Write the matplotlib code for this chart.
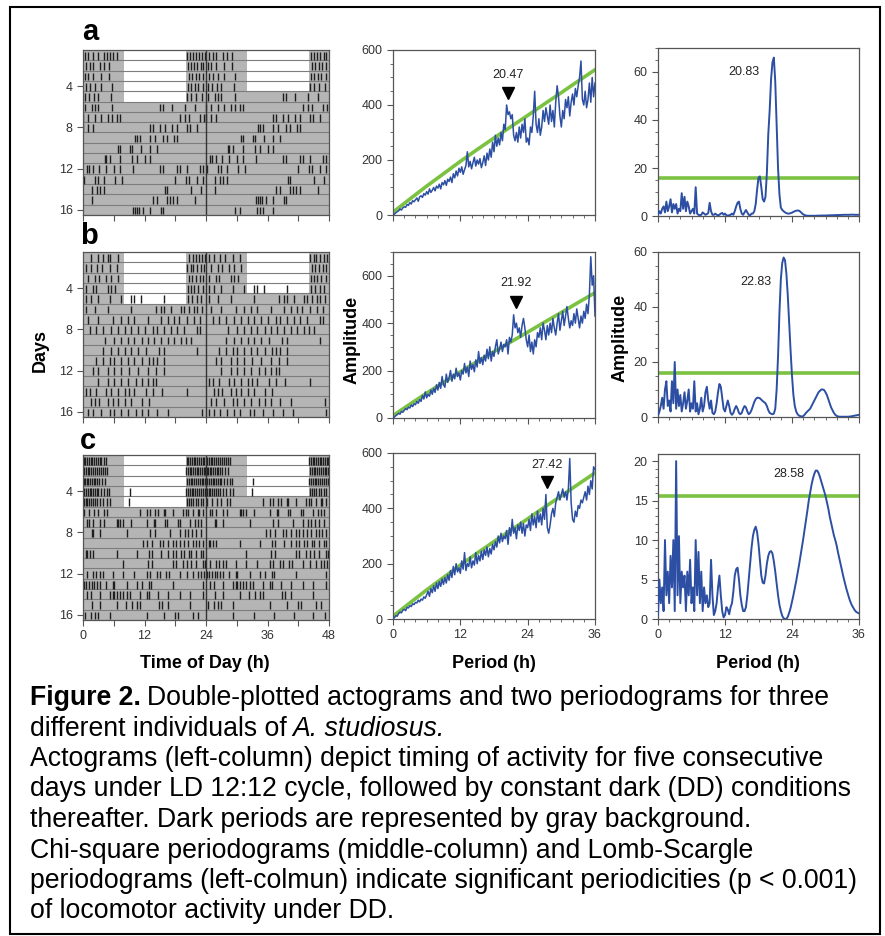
import numpy as np
import matplotlib.pyplot as plt
from matplotlib.patches import Rectangle
from matplotlib.ticker import MultipleLocator

plt.rcParams['font.family'] = ['Liberation Sans', 'DejaVu Sans']

# ---------------- data ----------------
# activity bouts (hour of day) for days 1..17, one list per day
ACT_A = [
    [0.4, 1.0, 2.0, 3.0, 4.0, 4.6, 5.3, 5.9, 6.6, 20.2, 20.8, 21.5, 22.0, 22.6, 23.3, 23.8],
    [0.5, 1.4, 2.0, 3.4, 4.0, 5.0, 20.5, 21.0, 21.6, 22.3, 23.0, 23.5],
    [0.3, 1.0, 2.0, 3.5, 5.0, 20.6, 21.2, 22.0, 22.7, 23.4],
    [0.5, 1.4, 2.3, 3.6, 5.6, 20.4, 21.0, 21.8, 22.5, 23.5],
    [0.4, 1.2, 2.1, 3.0, 5.5, 20.3, 21.0, 22.0, 23.2],
    [0.4, 1.7, 2.3, 3.0, 5.6, 15.0, 15.7, 17.3, 19.9, 21.9],
    [0.0, 1.0, 2.3, 3.6, 4.9, 5.6, 6.6, 7.2, 18.9, 19.9, 20.6, 22.9, 23.6],
    [0.0, 1.0, 2.0, 13.0, 13.7, 15.0, 16.0, 17.3, 18.3, 20.2, 20.9, 22.2],
    [10.1, 10.5, 11.2, 13.1, 14.0, 15.7, 16.4, 17.7, 18.3],
    [6.9, 7.3, 9.2, 9.5, 11.4, 13.0, 14.4],
    [4.3, 4.4, 5.3, 7.2, 9.5, 10.5, 12.0, 13.0],
    [0.7, 1.2, 2.0, 3.2, 4.5, 6.0, 7.3, 9.8, 15.0, 15.7, 18.3, 19.0, 20.3, 22.9, 23.5],
    [0.1, 2.3, 3.0, 4.0, 6.2, 7.6, 18.0, 20.0, 20.6, 22.2, 23.5],
    [1.8, 2.7, 3.4, 4.0, 16.0, 16.3, 21.0, 23.0],
    [1.7, 13.7, 14.4, 16.4, 17.0, 17.6, 18.3, 21.9],
    [9.8, 10.2, 10.5, 10.9, 11.8, 13.0, 15.3, 15.7],
    [5.6, 6.6, 9.9, 10.5, 11.2, 13.1],
]
ACT_B = [
    [1.6, 2.9, 3.9, 4.8, 5.2, 6.8, 20.7, 21.4, 22.0, 22.7, 23.3, 23.8],
    [0.5, 1.5, 2.8, 3.7, 5.3, 6.6, 20.2, 21.0, 21.5, 22.3, 23.0, 23.6],
    [1.0, 2.3, 3.2, 4.5, 5.5, 6.8, 20.6, 21.3, 22.0, 22.8, 23.5],
    [0.6, 1.9, 2.6, 4.9, 5.5, 6.2, 20.4, 21.0, 21.6, 22.5, 23.4],
    [0.6, 1.6, 2.9, 5.2, 7.4, 9.4, 10.0, 11.3, 15.8, 20.5, 21.2, 22.3, 23.0],
    [0.6, 2.3, 4.8, 9.4, 14.2, 15.2, 15.8, 17.1, 19.1, 19.7, 20.7, 21.6, 22.3, 23.3],
    [1.0, 2.9, 5.8, 7.4, 8.7, 10.0, 12.6, 15.2, 16.5, 17.8, 18.7, 20.3, 21.6, 22.9],
    [1.3, 2.6, 3.9, 5.5, 6.8, 8.1, 9.4, 10.7, 12.0, 13.6, 14.5, 15.8, 17.1, 18.4, 19.7, 22.3, 22.9],
    [4.2, 6.1, 7.4, 8.7, 10.0, 11.6, 12.6, 13.9, 15.2, 16.5, 17.8, 19.1, 20.0, 21.0],
    [3.9, 5.5, 6.8, 8.1, 9.4, 10.7, 12.3, 14.9, 15.8, 22.3],
    [2.6, 3.9, 5.2, 6.1, 7.4, 8.7, 10.0, 11.6, 12.9, 13.6, 14.5, 15.8],
    [1.9, 2.9, 4.8, 6.1, 7.4, 9.0, 10.7, 12.6, 14.2, 15.8],
    [2.9, 4.8, 6.1, 7.4, 8.7, 10.3, 11.6, 12.6, 13.6, 14.2],
    [0.6, 1.3, 2.6, 4.5, 5.5, 6.8, 8.1, 9.0, 10.0, 12.3, 13.6, 15.5, 20.3],
    [1.6, 2.3, 3.2, 4.8, 5.8, 6.8, 8.1, 9.4, 11.6, 12.9],
    [1.0, 1.9, 3.6, 5.2, 6.1, 7.4, 8.7, 10.3, 11.6, 12.6, 14.5, 16.5, 23.3],
    [0.5, 1.5, 2.8, 4.1, 5.4, 6.7, 8.6, 9.3, 11.2, 13.1, 15.1, 17.0, 23.5],
]
ACT_C = [
    [0.1, 0.4, 0.8, 1.1, 1.5, 1.8, 2.2, 2.5, 2.9, 3.3, 3.6, 4.0, 4.4,
     20.2, 20.5, 20.9, 21.2, 21.6, 21.9, 22.3, 22.6, 23.0, 23.4, 23.7],
    [0.2, 0.5, 0.9, 1.2, 1.6, 2.0, 2.3, 2.7, 3.1, 3.5, 3.9, 4.3, 4.7,
     20.1, 20.4, 20.8, 21.1, 21.5, 21.8, 22.2, 22.5, 22.9, 23.3, 23.6, 23.9],
    [0.1, 0.4, 0.7, 1.0, 1.4, 1.7, 2.1, 2.4, 2.8, 3.2, 3.7, 4.2,
     20.3, 20.6, 21.0, 21.3, 21.7, 22.1, 22.4, 22.8, 23.2, 23.5, 23.9],
    [0.2, 0.6, 0.9, 1.3, 1.6, 2.0, 2.3, 2.7, 3.0, 3.5, 4.1, 4.6, 5.0, 9.2,
     20.1, 20.5, 20.8, 21.2, 21.5, 21.9, 22.3, 22.7, 23.1, 23.5, 23.8],
    [0.1, 0.5, 0.8, 1.2, 1.5, 1.9, 2.3, 2.8, 3.3, 3.9, 4.6, 5.3, 9.0,
     20.2, 20.6, 21.0, 21.5, 22.0, 22.5, 23.0, 23.5],
    [0.1, 1.1, 2.1, 3.0, 4.0, 4.7, 11.1, 12.4, 13.1, 14.0, 14.7, 15.9, 16.0, 17.6,
     19.5, 20.1, 20.5, 21.4, 22.5, 22.7, 23.4],
    [0.7, 1.1, 2.0, 3.4, 4.0, 6.6, 6.9, 7.2, 7.8, 9.3, 12.4, 13.8, 14.0, 16.0, 16.4,
     18.6, 19.0, 20.9, 21.8, 22.5, 23.1],
    [1.7, 2.0, 3.4, 8.5, 13.1, 14.0, 16.9, 18.9, 19.9, 20.5, 21.2, 22.1, 23.1],
    [11.8, 12.4, 13.4, 15.0, 15.6, 16.6, 17.6, 18.2, 18.9, 19.8, 20.5, 21.4, 22.1, 22.7, 23.4],
    [0.5, 0.7, 1.3, 1.9, 6.6, 10.5, 12.9, 13.5, 15.3, 16.6, 17.6, 18.2, 19.2, 19.8,
     20.7, 21.1, 22.1, 23.1, 23.4],
    [7.8, 12.7, 13.5, 17.6, 18.2, 19.6, 20.2, 21.1, 22.1, 23.4, 23.9],
    [0.7, 2.0, 2.5, 3.3, 3.9, 5.8, 7.8, 9.9, 12.4, 13.1, 14.4, 15.1, 16.1, 16.7,
     18.9, 20.2, 21.4, 22.4, 23.1, 23.7],
    [0.2, 0.6, 1.1, 1.7, 2.2, 2.8, 3.4, 4.5, 5.8, 6.1, 8.6, 10.5, 11.5, 12.8, 13.3,
     17.6, 23.4],
    [0.8, 1.5, 3.4, 5.2, 5.8, 6.1, 6.6, 7.2, 7.8, 8.5, 9.2, 11.1, 12.4, 12.9, 14.7,
     16.6, 19.0, 20.9, 23.4],
    [1.7, 3.4, 6.6, 8.4, 9.5, 10.5, 11.1, 14.9, 15.5, 16.6, 20.8],
    [0.3, 1.5, 2.4, 3.0, 5.3, 12.4, 15.8, 17.9, 18.6, 21.5, 22.5],
    [5.3, 9.3, 13.3, 17.2, 20.9, 23.3],
]
LD_DAYS = 5
LIGHT_ON, LIGHT_OFF = 8, 20

periods = np.arange(0, 36.01, 0.25)

CHI_A = [0, 3, 8, 12, 15, 22, 18, 26, 30, 28, 38, 35, 45, 40, 52, 48,
         55, 62, 50, 66, 70, 64, 78, 72, 85, 76, 95, 82, 90, 100, 88, 105,
         98, 112, 95, 118, 110, 125, 108, 130, 122, 138, 118, 150, 135, 160, 142, 170,
         155, 175, 148, 165, 180, 230, 175, 195, 168, 190, 210, 178, 200, 185, 205, 172,
         190, 215, 180, 225, 200, 240, 210, 265, 230, 290, 250, 280, 255, 300, 270, 330,
         310, 400, 365, 375, 350, 365, 290, 270, 300, 265, 320, 280, 330, 300, 350, 265,
         280, 255, 320, 300, 360, 450, 330, 300, 350, 290, 320, 380, 340, 390, 360, 330,
         400, 340, 380, 320, 410, 470, 430, 360, 320, 380, 350, 420, 390, 430, 360, 410,
         440, 400, 460, 430, 470, 500, 560, 420, 400, 450, 390, 420, 480, 410, 500, 430,
         480]
CHI_B = [0, 4, 10, 14, 20, 16, 28, 24, 32, 40, 35, 46, 42, 55, 48, 60,
         56, 70, 62, 78, 70, 95, 80, 110, 85, 100, 92, 118, 100, 125, 108, 140,
         118, 150, 125, 175, 140, 130, 185, 150, 170, 200, 155, 185, 165, 210, 175, 190,
         160, 200, 185, 230, 190, 215, 175, 240, 205, 225, 195, 245, 215, 280, 230, 255,
         225, 265, 240, 290, 250, 300, 240, 280, 260, 300, 330, 270, 290, 320, 280, 310,
         300, 330, 270, 340, 320, 350, 435, 380, 400, 360, 380, 340, 390, 420, 380, 330,
         300, 350, 280, 320, 270, 330, 300, 360, 340, 380, 330, 400, 370, 330, 390, 350,
         400, 360, 420, 380, 350, 400, 440, 370, 410, 450, 390, 430, 470, 420, 380, 410,
         390, 440, 400, 460, 420, 380, 430, 400, 450, 420, 480, 440, 520, 680, 560, 600,
         430]
CHI_C = [0, 5, 12, 10, 20, 25, 22, 32, 35, 30, 42, 40, 48, 45, 55, 52,
         60, 58, 68, 62, 72, 68, 80, 75, 88, 100, 82, 110, 95, 120, 100, 130,
         110, 135, 118, 145, 125, 150, 130, 160, 140, 175, 150, 190, 160, 200, 170, 185,
         165, 210, 180, 240, 175, 200, 190, 225, 185, 210, 195, 240, 200, 230, 210, 245,
         215, 250, 230, 260, 225, 255, 235, 270, 250, 280, 260, 300, 275, 310, 280, 300,
         290, 320, 270, 330, 300, 360, 310, 330, 290, 340, 320, 350, 310, 345, 300, 340,
         330, 360, 320, 380, 340, 370, 330, 390, 350, 380, 340, 400, 360, 450, 330, 310,
         340, 380, 400, 370, 420, 440, 460, 430, 450, 470, 440, 460, 430, 470, 580, 420,
         360, 350, 390, 370, 410, 400, 430, 420, 440, 460, 430, 480, 450, 500, 470, 550,
         540]
# chi-square significance line (p = 0.001)
THR_P = [0, 3, 6, 9, 12, 15, 18, 21, 24, 27, 30, 33, 36]
THR_Q = [10, 58, 105, 150, 195, 238, 280, 321, 362, 404, 445, 487, 528]

LS_A = [0.5, 2, 1, 3, 4, 1.5, 6, 2, 4, 7, 1.5, 5, 3, 5, 1, 3,
        2, 9.5, 3, 8, 2, 6, 4, 1, 2, 3, 1, 12, 1, 0.5, 0.3, 0.5,
        1.5, 1, 0.5, 0.8, 1.2, 5.5, 2, 0.5, 0.5, 1, 0.5, 0.3, 0.5, 1, 1.3, 0.5,
        1, 0.3, 0.2, 0.3, 0.5, 1, 0.5, 2, 4, 5.5, 6, 3, 1, 0.5, 1.5, 2.5,
        1.5, 0.5, 0.3, 1, 1, 2, 5, 11, 16, 16.5, 12, 7, 6, 8, 18, 34,
        44, 57, 64, 66, 56, 38, 20, 9, 3.5, 2.5, 2, 1.5, 1.2, 1, 1, 1.2,
        1.4, 1.7, 2, 2.2, 2.3, 2.2, 1.8, 1.2, 0.7, 0.4, 0.2, 0.1, 0.1, 0.1, 0.1, 0.1,
        0.1, 0.1, 0.15, 0.15, 0.15, 0.2, 0.2, 0.2, 0.2, 0.25, 0.25, 0.3, 0.3, 0.3, 0.35, 0.35,
        0.4, 0.4, 0.4, 0.45, 0.45, 0.5, 0.5, 0.5, 0.5, 0.5, 0.55, 0.55, 0.55, 0.5, 0.5, 0.5,
        0.5]
LS_B = [0.5, 2, 4, 7, 3, 10, 13, 4, 6, 2, 13, 5, 20, 3, 10, 4,
        8, 2, 5, 9, 3, 6, 10, 2, 5, 3, 13, 2, 5, 1, 3, 7,
        2, 4, 9, 11, 6, 3, 6, 1.5, 1, 2, 5, 9, 12, 11, 7, 3,
        2, 4, 6, 4, 1.5, 0.8, 1.5, 3, 4, 3, 1.5, 1, 1.5, 3, 4, 3.5,
        2, 1, 1.5, 2.5, 4, 5.5, 6.5, 7, 7, 6.8, 6.3, 5.8, 5.4, 5, 4, 2.5,
        1.5, 1.2, 1, 1.2, 3, 10, 22, 38, 50, 56, 58, 57, 52, 44, 34, 24,
        15, 8, 4, 2, 1, 0.5, 0.3, 0.2, 0.3, 0.8, 1.5, 2, 2.5, 3, 4, 5,
        6, 7, 8, 9, 9.5, 10, 10, 9.8, 9, 8, 6.5, 5, 3.5, 2.5, 1.5, 0.8,
        0.4, 0.2, 0.1, 0.1, 0.1, 0.1, 0.1, 0.1, 0.1, 0.15, 0.2, 0.3, 0.4, 0.5, 0.6, 0.7,
        0.8]
LS_C = [0.5, 5, 2, 4, 1, 10, 3, 6, 2, 8, 4, 10, 1, 20, 3, 10.5,
        2, 6, 4, 5.5, 1, 6, 3, 7.5, 2, 4, 1, 10, 3, 8.5, 2, 6,
        1, 4, 2, 3, 1.5, 2, 7.5, 3, 0.5, 1, 2, 4, 5.5, 3, 1, 0.2,
        0.5, 1.5, 1.2, 0.6, 1.5, 2, 3.5, 5.5, 6.3, 6.5, 5, 3, 1.8, 1, 1, 1.5,
        3, 5, 7, 9, 10.5, 11.3, 11.7, 11, 9.5, 7.5, 5.5, 4.6, 4.5, 5.5, 7, 8,
        8.5, 8.6, 8.3, 7.3, 6, 4.5, 3, 1.8, 1, 0.4, 0.1, 0, 0, 0.3, 0.8, 1.4,
        2.2, 3, 3.9, 4.8, 5.8, 6.8, 7.9, 9, 10.1, 11.3, 12.5, 13.7, 15, 16, 17, 17.8,
        18.4, 18.8, 18.8, 18.5, 18, 17.4, 16.8, 16.2, 15.6, 14.8, 14, 13, 12.2, 11.4, 10.6, 10,
        9.3, 8.4, 7.6, 6.8, 6, 5.2, 4.5, 3.8, 3.2, 2.6, 2.1, 1.7, 1.4, 1.1, 0.9, 0.8,
        0.7]
LS_THR = [16, 16, 15.6]

CHI_PEAKS = [20.47, 21.92, 27.42]
LS_PEAKS = [20.83, 22.83, 28.58]

# ---------------- figure ----------------
W, H = 885, 936
fig = plt.figure(figsize=(W / 100, H / 100), dpi=100)

BLUE = '#2d4fa3'
GREEN = '#7cc242'
GRAY = '#b5b5b5'
SPINE = '#555555'
TICKC = '#333333'


def px_axes(x0, y0, x1, y1):
    return fig.add_axes([x0 / W, 1 - y1 / H, (x1 - x0) / W, (y1 - y0) / H])


def style(ax, show_x):
    for s in ax.spines.values():
        s.set_color(SPINE)
        s.set_linewidth(0.9)
    ax.tick_params(which='both', direction='out', colors=SPINE, labelcolor=TICKC,
                   labelsize=9)
    ax.tick_params(which='major', length=4)
    ax.tick_params(which='minor', length=2.5)
    if not show_x:
        ax.tick_params(axis='x', labelbottom=False)


def actogram(ax, days, show_x):
    n = len(days) - 1
    ax.set_facecolor(GRAY)
    for r in range(1, n + 1):
        if r <= LD_DAYS:
            ax.add_patch(Rectangle((LIGHT_ON, r - 0.5), LIGHT_OFF - LIGHT_ON, 1,
                                   facecolor='white', lw=0))
        if r + 1 <= LD_DAYS:
            ax.add_patch(Rectangle((24 + LIGHT_ON, r - 0.5), LIGHT_OFF - LIGHT_ON, 1,
                                   facecolor='white', lw=0))
        ax.axhline(r + 0.5, color='#7d7d7d', lw=0.8)
        xs = np.concatenate([np.array(days[r - 1]), np.array(days[r]) + 24])
        ax.vlines(xs, r + 0.45, r - 0.3, color='#1e1e1e', lw=1.0)
    ax.axvline(24, color='#333333', lw=1.0)
    ax.set_xlim(0, 48)
    ax.set_ylim(n + 0.5, 0.5)
    ax.set_xticks(range(0, 49, 6))
    ax.set_xticklabels(['0', '', '12', '', '24', '', '36', '', '48'])
    ax.set_yticks([4, 8, 12, 16])
    style(ax, show_x)


def chi_panel(ax, qp, peak, tri_y, txt_y, top, show_x):
    ax.plot(THR_P, THR_Q, color=GREEN, lw=2.6, zorder=2)
    ax.plot(periods, qp, color=BLUE, lw=1.1, zorder=3)
    ax.plot([peak], [tri_y], marker='v', color='black', ms=9, zorder=4)
    ax.text(peak, txt_y, f'{peak:.2f}', ha='center', va='center', fontsize=9,
            color='#222222')
    ax.set_xlim(0, 36)
    ax.set_ylim(0, top)
    ax.xaxis.set_major_locator(MultipleLocator(12))
    ax.xaxis.set_minor_locator(MultipleLocator(2))
    ax.yaxis.set_major_locator(MultipleLocator(200))
    ax.yaxis.set_minor_locator(MultipleLocator(50))
    style(ax, show_x)


def ls_panel(ax, pw, thr, peak, txt_x, txt_y, top, major, minor, show_x):
    ax.axhline(thr, color=GREEN, lw=2.6, zorder=2)
    ax.plot(periods, pw, color=BLUE, lw=1.4, zorder=3)
    ax.text(txt_x, txt_y, f'{peak:.2f}', ha='center', va='center', fontsize=9,
            color='#222222')
    ax.set_xlim(0, 36)
    ax.set_ylim(0, top)
    ax.xaxis.set_major_locator(MultipleLocator(12))
    ax.xaxis.set_minor_locator(MultipleLocator(2))
    ax.yaxis.set_major_locator(MultipleLocator(major))
    ax.yaxis.set_minor_locator(MultipleLocator(minor))
    style(ax, show_x)


# actograms
act_boxes = [(83, 50, 329, 215), (83, 252, 329, 417), (83, 455, 329, 620)]
for i, (box, days) in enumerate(zip(act_boxes, [ACT_A, ACT_B, ACT_C])):
    actogram(px_axes(*box), days, i == 2)

# chi-square periodograms
chi_boxes = [(393, 50, 595, 215), (393, 252, 595, 418), (393, 453, 595, 619)]
chi_tops = [600, 700, 600]
tri_ys = [442, 491, 495]
txt_ys = [509, 569, 555]
for i, qp in enumerate([CHI_A, CHI_B, CHI_C]):
    chi_panel(px_axes(*chi_boxes[i]), qp, CHI_PEAKS[i], tri_ys[i], txt_ys[i],
              chi_tops[i], i == 2)

# Lomb-Scargle periodograms
ls_boxes = [(658, 48, 859, 216), (658, 252, 859, 417), (658, 454, 859, 619)]
ls_tops = [70, 60, 20.9]
ls_major = [20, 20, 5]
ls_minor = [5, 5, 1]
ls_txt = [(15.3, 60), (17.6, 49), (23.4, 18.4)]
for i, pw in enumerate([LS_A, LS_B, LS_C]):
    ls_panel(px_axes(*ls_boxes[i]), pw, LS_THR[i], LS_PEAKS[i], ls_txt[i][0],
             ls_txt[i][1], ls_tops[i], ls_major[i], ls_minor[i], i == 2)

# panel letters and axis titles


def ftext(x, y, s, **kw):
    return fig.text(x / W, 1 - y / H, s, **kw)


for letter, (x, y) in zip('abc', [(90, 32), (89, 236), (88, 441)]):
    ftext(x, y, letter, fontsize=21, weight='bold', ha='center', va='center')

ftext(40, 350, 'Days', rotation=90, fontsize=13, weight='bold', ha='center', va='center')
ftext(352, 340, 'Amplitude', rotation=90, fontsize=13, weight='bold', ha='center', va='center')
ftext(620, 338, 'Amplitude', rotation=90, fontsize=13, weight='bold', ha='center', va='center')
ftext(205, 663, 'Time of Day (h)', fontsize=13, weight='bold', ha='center', va='center')
ftext(494, 663, 'Period (h)', fontsize=13, weight='bold', ha='center', va='center')
ftext(758, 663, 'Period (h)', fontsize=13, weight='bold', ha='center', va='center')

# caption
CAP = 19.2
x0 = 30
base = [705 + 30.5 * i for i in range(8)]
renderer = fig.canvas.get_renderer()
t = ftext(x0, base[0], 'Figure 2.', fontsize=CAP, weight='bold', va='baseline')
x1 = t.get_window_extent(renderer=renderer).x1 + 6
fig.text(x1 / W, 1 - base[0] / H, 'Double-plotted actograms and two periodograms for three',
         fontsize=CAP, va='baseline')
t = ftext(x0, base[1], 'different individuals of', fontsize=CAP, va='baseline')
x1 = t.get_window_extent(renderer=renderer).x1 + 6
fig.text(x1 / W, 1 - base[1] / H, 'A. studiosus.', fontsize=CAP, style='italic',
         va='baseline')
rest = [
    'Actograms (left-column) depict timing of activity for five consecutive',
    'days under LD 12:12 cycle, followed by constant dark (DD) conditions',
    'thereafter. Dark periods are represented by gray background.',
    'Chi-square periodograms (middle-column) and Lomb-Scargle',
    'periodograms (left-colmun) indicate significant periodicities (p < 0.001)',
    'of locomotor activity under DD.',
]
for line, y in zip(rest, base[2:]):
    ftext(x0, y, line, fontsize=CAP, va='baseline')

# outer frame
fig.add_artist(Rectangle((10 / W, 1 - 934 / H), 870 / W, 927 / H,
                         transform=fig.transFigure, fill=False, lw=1.5, ec='black'))

fig.savefig('out.png', dpi=100)
